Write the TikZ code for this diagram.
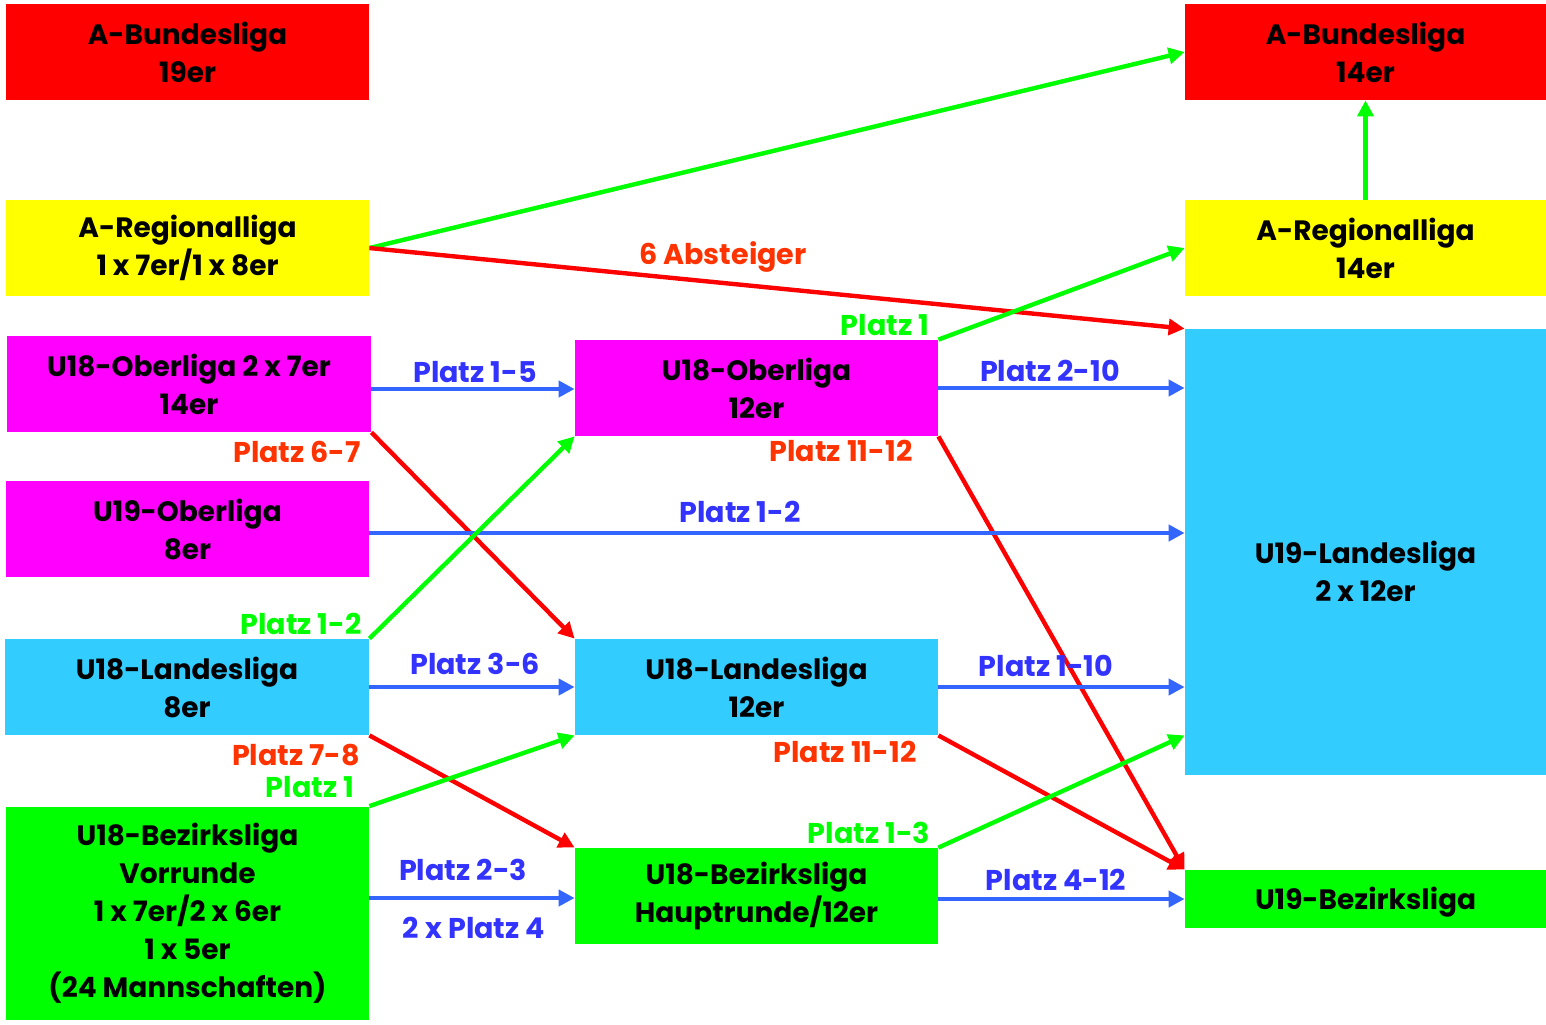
\documentclass[tikz,border=0pt]{standalone}
\usepackage{fontspec}
\setmainfont{Poppins}
\usetikzlibrary{arrows.meta}
\definecolor{cRed}{HTML}{FF0000}
\definecolor{cYel}{HTML}{FFFF00}
\definecolor{cMag}{HTML}{FF00FF}
\definecolor{cCya}{HTML}{33CCFF}
\definecolor{cGrn}{HTML}{00FF00}
\definecolor{aBlue}{HTML}{3366FF}
\definecolor{tBlue}{HTML}{3333FF}
\definecolor{tOrg}{HTML}{FF3300}
\tikzset{
  box/.style={inner sep=0pt, minimum width=181.5pt, minimum height=48pt, align=center,
    font=\fontsize{14}{19}\selectfont\bfseries, text=black},
  lbl/.style={inner sep=0pt, font=\fontsize{14.3}{19}\selectfont\bfseries},
  arr/.style={line width=2.2pt, -{Triangle[length=8pt,width=8pt]}},
  ga/.style={arr, draw=cGrn},
  ra/.style={arr, draw=cRed},
  ba/.style={arr, draw=aBlue},
}
\begin{document}
\begin{tikzpicture}[x=0.5pt,y=-0.5pt]
\useasboundingbox (0,0) rectangle (1546,1024);
% left column
\node[box, fill=cRed] (abl) at (187.5,52) {A-Bundesliga\\19er};
\node[box, fill=cYel] (arl) at (187.5,248) {A-Regionalliga\\1 x 7er/1 x 8er};
\node[box, fill=cMag, minimum width=182pt] (u18o7) at (189,384) {U18-Oberliga 2 x 7er\\14er};
\node[box, fill=cMag] (u19o) at (187.5,529) {U19-Oberliga\\8er};
\node[box, fill=cCya, minimum width=182pt] (u18l8) at (187,687) {U18-Landesliga\\8er};
\node[box, fill=cGrn, minimum height=106.5pt] (u18bv) at (187.5,913) {U18-Bezirksliga\\Vorrunde\\1 x 7er/2 x 6er\\1 x 5er\\(24 Mannschaften)};
% middle column
\node[box, fill=cMag] (u18o12) at (756.5,388) {U18-Oberliga\\12er};
\node[box, fill=cCya] (u18l12) at (756.5,687) {U18-Landesliga\\12er};
\node[box, fill=cGrn] (u18bh) at (756.5,896) {U18-Bezirksliga\\Hauptrunde/12er};
% right column
\node[box, fill=cRed, minimum width=180.5pt] (abr) at (1365.5,52) {A-Bundesliga\\14er};
\node[box, fill=cYel, minimum width=180.5pt] (arr) at (1365.5,248) {A-Regionalliga\\14er};
\node[box, fill=cCya, minimum width=180.5pt, minimum height=223pt] (u19l) at (1365.5,552) {};
\node[box] (u19lt) at (1365.5,571) {U19-Landesliga\\2 x 12er};
\node[box, fill=cGrn, minimum width=180.5pt, minimum height=29pt] (u19b) at (1365.5,899) {};
\node[box] (u19bt) at (1365.5,902) {U19-Bezirksliga};
% connection points
\coordinate (pO7) at ([yshift=-2.5pt]u18o7.east);
\coordinate (pU19o) at ([yshift=-2pt]u19o.east);
\coordinate (pBv) at ([yshift=-1pt]u18bv.east |- u18bh.west);
% connectors
\draw[ga] (arl.east) -- (abr.west);
\draw[ra] (arl.east) -- (u19l.north west);
\draw[ga] (arr.north) -- (abr.south);
\draw[ga] (u18o12.north east) -- (arr.west);
\draw[ba] (pO7) -- (pO7 -| u18o12.west);
\draw[ba] (u18o12.east) -- (u18o12.east -| u19l.west);
\draw[ra] (u18o7.south east) -- (u18l12.north west);
\draw[ra] (u18o12.south east) -- (u19b.north west);
\draw[ba] (pU19o) -- (pU19o -| u19l.west);
\draw[ga] (u18l8.north east) -- (u18o12.south west);
\draw[ba] (u18l8.east) -- (u18l12.west);
\draw[ba] (u18l12.east) -- (u18l12.east -| u19l.west);
\draw[ra] (u18l8.south east) -- (u18bh.north west);
\draw[ga] (u18bv.north east) -- (u18l12.south west);
\draw[ra] (u18l12.south east) -- (u19b.north west);
\draw[ga] (u18bh.north east) -- (u19l.west |- u18l12.south);
\draw[ba] (pBv) -- (pBv -| u18bh.west);
\draw[ba] (u18bh.east |- u19b.west) -- (u19b.west);
% labels
\node[lbl, text=tOrg] (l1) at (723,257) {6 Absteiger};
\node[lbl, text=cGrn] (l2) at (885,325) {Platz 1};
\node[lbl, text=tBlue] (l3) at (475,372) {Platz 1-5};
\node[lbl, text=tBlue] (l4) at (1050,371) {Platz 2-10};
\node[lbl, text=tOrg] (l5) at (297,452) {Platz 6-7};
\node[lbl, text=tOrg] (l6) at (841,451) {Platz 11-12};
\node[lbl, text=tBlue] (l7) at (740,512) {Platz 1-2};
\node[lbl, text=cGrn] (l8) at (301,624) {Platz 1-2};
\node[lbl, text=tBlue] (l9) at (475,664) {Platz 3-6};
\node[lbl, text=tBlue] (l10) at (1046,666) {Platz 1-10};
\node[lbl, text=tOrg] (l11) at (296,755) {Platz 7-8};
\node[lbl, text=cGrn] (l12) at (310,787) {Platz 1};
\node[lbl, text=tOrg] (l13) at (845,752) {Platz 11-12};
\node[lbl, text=cGrn] (l14) at (869,833) {Platz 1-3};
\node[lbl, text=tBlue] (l15) at (463,870) {Platz 2-3};
\node[lbl, text=tBlue] (l16) at (474,928) {2 x Platz 4};
\node[lbl, text=tBlue] (l17) at (1056,880) {Platz 4-12};
\end{tikzpicture}
\end{document}
